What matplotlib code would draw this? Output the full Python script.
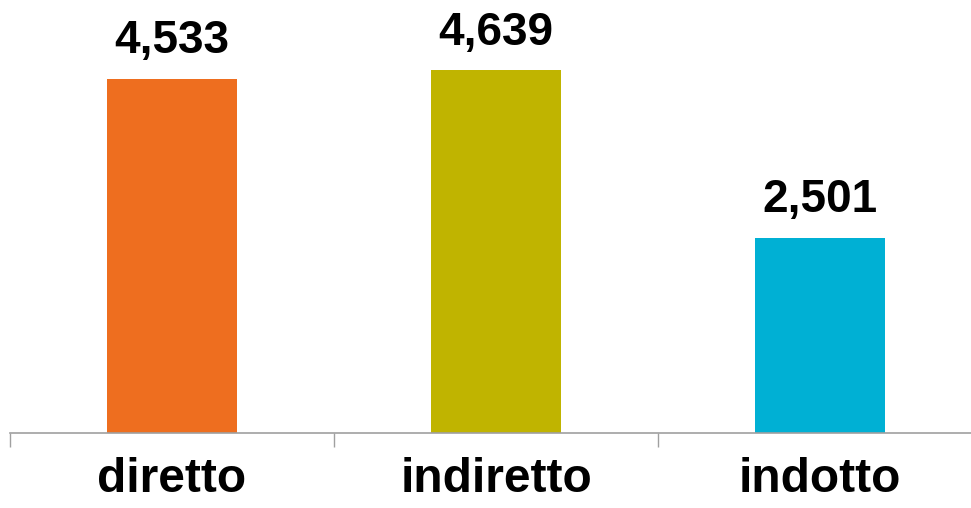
import matplotlib.pyplot as plt
from matplotlib.ticker import FixedLocator

categorie = ['diretto', 'indiretto', 'indotto']
valori = [4533, 4639, 2501]
colori = ['#EE6E1F', '#C0B400', '#00B0D4']

plt.rcParams['font.family'] = ['Liberation Sans', 'DejaVu Sans']

fig = plt.figure(figsize=(9.71, 5.08), dpi=100)
ax = fig.add_axes([10 / 971, 75 / 508, 972 / 971, 433 / 508])

x = range(len(categorie))
ax.bar(x, valori, width=0.4, color=colori)

for xi, v in zip(x, valori):
    ax.annotate(f'{v:,}', (xi, v), xytext=(0, 11), textcoords='offset points',
                ha='center', va='bottom', fontsize=33, fontweight='bold')

ax.set_xlim(-0.5, 2.5)
ax.set_ylim(0, 5540)

ax.set_xticks(list(x))
ax.set_xticklabels(categorie, fontsize=34.5, fontweight='bold')
ax.tick_params(axis='x', which='major', length=0, pad=17)
ax.xaxis.set_minor_locator(FixedLocator([-0.5, 0.5, 1.5, 2.5]))
ax.tick_params(axis='x', which='minor', length=10, width=1, color='#a0a0a0')
ax.set_yticks([])

for s in ['top', 'right', 'left']:
    ax.spines[s].set_visible(False)
ax.spines['bottom'].set_color('#a0a0a0')
ax.spines['bottom'].set_linewidth(1.2)

fig.savefig('out.png', dpi=100)
